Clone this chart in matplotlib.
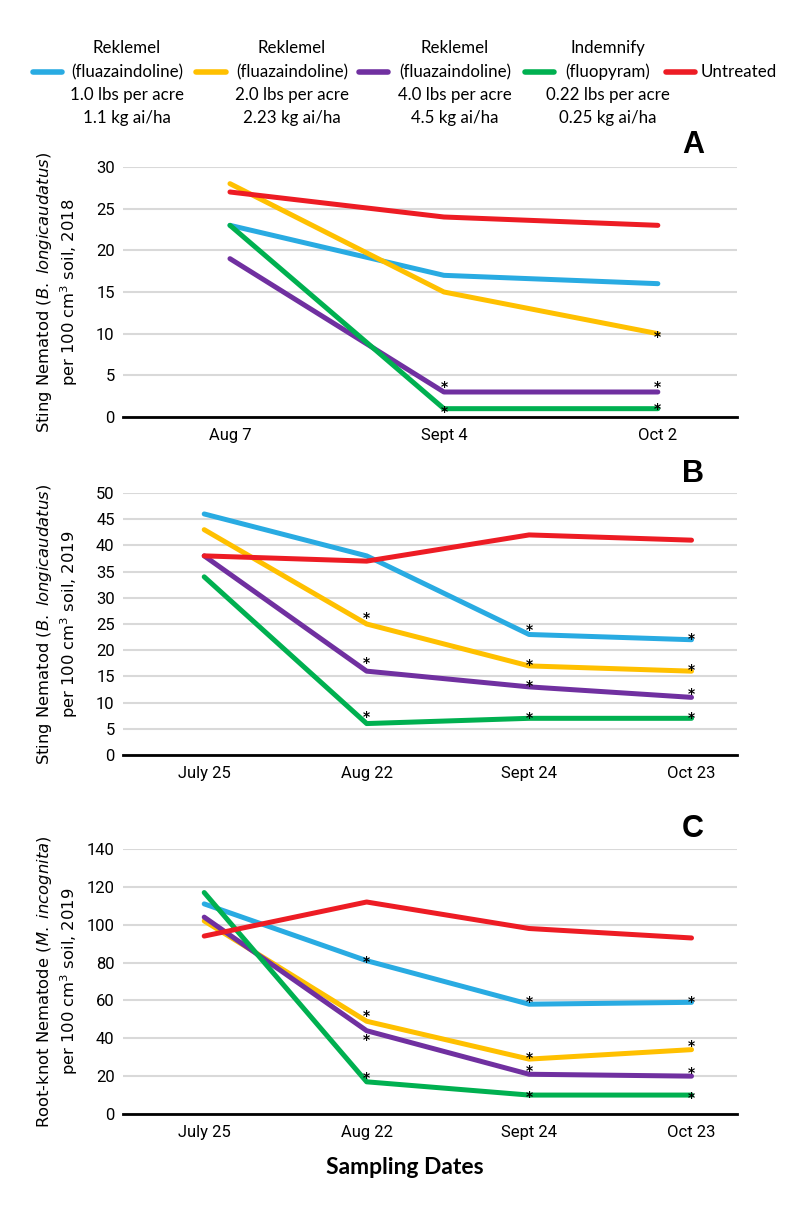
import matplotlib
matplotlib.use('Agg')
import matplotlib.pyplot as plt
from matplotlib.lines import Line2D

plt.rcParams['mathtext.fontset'] = 'dejavusans'

# Цвета и подписи обработок
colors = ['#29ABE2', '#FFC000', '#7030A0', '#00B050', '#ED1C24']
legend_blocks = [
    ['Reklemel', '(fluazaindoline)', '1.0 lbs per acre', '1.1 kg ai/ha'],
    ['Reklemel', '(fluazaindoline)', '2.0 lbs per acre', '2.23 kg ai/ha'],
    ['Reklemel', '(fluazaindoline)', '4.0 lbs per acre', '4.5 kg ai/ha'],
    ['Indemnify', '(fluopyram)', '0.22 lbs per acre', '0.25 kg ai/ha'],
    ['', 'Untreated', '', ''],
]

# Панель A (2018)
dates_a = ['Aug 7', 'Sept 4', 'Oct 2']
vals_a = [
    [23, 17, 16],
    [28, 15, 10],
    [19, 3, 3],
    [23, 1, 1],
    [27, 24, 23],
]
stars_a_x = [2, 1, 2, 1, 2]
stars_a_y = [9.6, 3.6, 3.6, 0.6, 1.0]

# Панель B (2019)
dates_b = ['July 25', 'Aug 22', 'Sept 24', 'Oct 23']
vals_b = [
    [46, 38, 23, 22],
    [43, 25, 17, 16],
    [38, 16, 13, 11],
    [34, 6, 7, 7],
    [38, 37, 42, 41],
]
stars_b_x = [1, 1, 1, 2, 2, 2, 2, 3, 3, 3, 3]
stars_b_y = [26.2, 17.5, 7.3, 23.8, 17.2, 13.2, 7.1, 22.2, 16.2, 11.7, 7.1]

# Панель C (галловая нематода, 2019)
dates_c = ['July 25', 'Aug 22', 'Sept 24', 'Oct 23']
vals_c = [
    [111, 81, 58, 59],
    [102, 49, 29, 34],
    [104, 44, 21, 20],
    [117, 17, 10, 10],
    [94, 112, 98, 93],
]
stars_c_x = [1, 1, 1, 1, 2, 2, 2, 2, 3, 3, 3, 3]
stars_c_y = [80.5, 51.8, 39, 18.8, 59, 29.4, 22.7, 9.2, 59, 35.9, 21.8, 8.3]

W, H = 800, 1206
fig = plt.figure(figsize=(W / 100, H / 100), dpi=100)

tick_font = ['Liberation Sans Narrow', 'Roboto', 'DejaVu Sans']
label_font = 'DejaVu Sans'


def panel(rect, dates, vals, sx, sy, ymax, ystep, xright, letter, ylab1, ylab2):
    ax = fig.add_axes(rect)
    x = list(range(len(dates)))
    for v, c in zip(vals, colors):
        ax.plot(x, v, color=c, lw=3.6, solid_capstyle='round', solid_joinstyle='round', zorder=3)
    for xi, yi in zip(sx, sy):
        ax.text(xi, yi, '*', ha='center', va='center', fontsize=10, fontweight='bold',
                color='black', zorder=4)
    ax.set_ylim(0, ymax)
    ax.set_xlim(-0.5, xright)
    ax.set_yticks(range(0, ymax + 1, ystep))
    ax.set_xticks(x)
    ax.set_xticklabels(dates)
    ax.grid(axis='y', color='#D9D9D9', lw=1.5, zorder=0)
    ax.set_axisbelow(True)
    for s in ['top', 'right', 'left']:
        ax.spines[s].set_visible(False)
    ax.spines['bottom'].set_linewidth(2)
    ax.tick_params(length=0, labelsize=12)
    ax.tick_params(axis='y', pad=6)
    ax.tick_params(axis='x', pad=8)
    for t in ax.get_xticklabels() + ax.get_yticklabels():
        t.set_family(tick_font)
    yc = rect[1] + rect[3] / 2
    fig.text(45 / W, yc, ylab1, rotation=90, ha='center', va='center', fontsize=11.8, family=label_font)
    fig.text(69 / W, yc, ylab2, rotation=90, ha='center', va='center', fontsize=11.8, family=label_font)
    fig.text(693 / W, 1 - letter[1] / H, letter[0], ha='center', va='center', fontsize=22,
             fontweight='bold', family='Liberation Sans')
    return ax


left = 123 / W
width = 614 / W
panel([left, 1 - 417 / H, width, 250 / H], dates_a, vals_a, stars_a_x, stars_a_y, 30, 5, 2.37,
      ('A', 145), r'Sting Nematod ($\it{B.\ longicaudatus}$)', r'per 100 cm$^3$ soil, 2018')
panel([left, 1 - 755 / H, width, 262 / H], dates_b, vals_b, stars_b_x, stars_b_y, 50, 5, 3.28,
      ('B', 474), r'Sting Nematod ($\it{B.\ longicaudatus}$)', r'per 100 cm$^3$ soil, 2019')
panel([left, 1 - 1114 / H, width, 265 / H], dates_c, vals_c, stars_c_x, stars_c_y, 140, 20, 3.28,
      ('C', 829), r'Root-knot Nematode ($\it{M.\ incognita}$)', r'per 100 cm$^3$ soil, 2019')

fig.text(405 / W, 1 - 1167 / H, 'Sampling Dates', ha='center', va='center', fontsize=16.5,
         fontweight='bold', family='Lato')

# Легенда сверху
handle_x = [(33, 62), (196, 226), (359, 388), (525, 554), (666, 695)]
text_x = [127, 292, 455, 608, 739]
row_y = [48, 72, 95, 118]
for (x0, x1), tx, block, c in zip(handle_x, text_x, legend_blocks, colors):
    fig.add_artist(Line2D([x0 / W, x1 / W], [1 - 72 / H, 1 - 72 / H], color=c, lw=4,
                          solid_capstyle='round', transform=fig.transFigure))
    for line, ry in zip(block, row_y):
        if line:
            fig.text(tx / W, 1 - ry / H, line, ha='center', va='center', fontsize=12.2, family='Lato')

fig.savefig('out.png', dpi=100)
